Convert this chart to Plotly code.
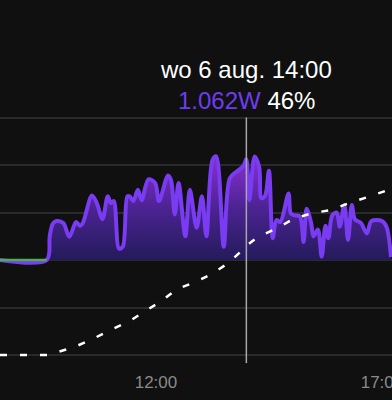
import plotly.graph_objects as go

DATE = "2025-08-06"

# Power (W) series
power_times = ["08:33", "09:35", "09:39", "09:43", "09:48", "09:57", "10:05", "10:14", "10:19", "10:23",
               "10:35", "10:41", "10:49", "10:56", "11:00", "11:04", "11:11", "11:16", "11:22", "11:25",
               "11:30", "11:36", "11:41", "11:50", "11:59", "12:04", "12:16", "12:20", "12:25", "12:30",
               "12:39", "12:45", "12:54", "13:01", "13:07", "13:15", "13:20", "13:30", "13:38", "13:47",
               "13:56", "14:00", "14:04", "14:11", "14:17", "14:20", "14:25", "14:30", "14:35", "14:40",
               "14:45", "14:56", "14:59", "15:04", "15:11", "15:16", "15:20", "15:26", "15:29", "15:35",
               "15:40", "15:45", "15:49", "15:54", "16:00", "16:04", "16:10", "16:15", "16:20", "16:24",
               "16:32", "16:40", "16:46", "17:00", "17:06", "17:12"]
power_values = [0, 0, 0.25, 0.38, 0.41, 0.39, 0.245, 0.40, 0.36, 0.39,
                0.68, 0.61, 0.43, 0.67, 0.60, 0.62, 0.12, 0.14, 0.67, 0.67,
                0.62, 0.74, 0.63, 0.85, 0.81, 0.62, 0.89, 0.84, 0.48, 0.81,
                0.25, 0.74, 0.34, 0.67, 0.25, 1.05, 1.09, 0.14, 0.86, 0.93,
                0.99, 1.062, 0.63, 1.09, 0.98, 0.65, 0.68, 0.94, 0.23, 0.42,
                0.40, 0.70, 0.49, 0.47, 0.46, 0.19, 0.54, 0.39, 0.25, 0.32,
                0.035, 0.36, 0.23, 0.47, 0.50, 0.35, 0.58, 0.21, 0.58, 0.43,
                0.39, 0.28, 0.41, 0.41, 0.35, 0.03]

# Green (idle) series
idle_times = ["08:33", "09:35"]
idle_values = [0, 0]

# Battery (%) series
battery_times = ["08:33", "09:37", "10:12", "10:36", "10:59", "11:23", "11:44", "12:07", "12:28",
                 "12:52", "13:14", "13:36", "13:55", "14:00", "14:15", "14:42", "15:02", "15:28",
                 "15:54", "16:16", "16:41", "17:07", "17:13"]
battery_values = [0, 0, 3.4, 6.7, 10.5, 13.9, 18.1, 22.7, 27.8,
                  30.7, 34.1, 38.7, 44.2, 46, 49.7, 53.5, 57.3, 59.8,
                  61.1, 64.0, 66.5, 69.1, 70]

tick_times = ["12:00", "17:00"]
tick_labels = ["12:00", "17:00"]
power_ticks = [-1.0, -0.5, 0, 0.5, 1.0, 1.5]

cursor_time = "14:00"
header_date = "wo 6 aug. 14:00"
header_power = "1.062W"
header_battery = "46%"

def ts(t):
    return f"{DATE} {t}"

BG = "#101010"
PURPLE = "#7a3cf3"
FONT = "Liberation Sans, Arial"

fig = go.Figure()

fig.add_trace(go.Scatter(
    x=[ts(t) for t in power_times], y=power_values,
    mode="lines", line=dict(color=PURPLE, width=4, shape="spline", smoothing=0.9),
    fill="tozeroy",
    fillgradient=dict(type="vertical", colorscale=[[0, "#221a58"], [0.5, "#4a2390"], [1, "#8a2ed2"]]),
    hoverinfo="skip", showlegend=False,
))

fig.add_trace(go.Scatter(
    x=[ts(t) for t in idle_times], y=idle_values,
    mode="lines", line=dict(color="#4caf50", width=2.5),
    hoverinfo="skip", showlegend=False,
))

fig.add_trace(go.Scatter(
    x=[ts(t) for t in battery_times], y=battery_values, yaxis="y2",
    mode="lines", line=dict(color="#ffffff", width=2.5, dash="7px,13px"),
    hoverinfo="skip", showlegend=False,
))

fig.add_shape(type="line", xref="x", yref="y",
              x0=ts(cursor_time), x1=ts(cursor_time),
              y0=power_ticks[0] - 0.085, y1=power_ticks[-1],
              line=dict(color="#a8a8a8", width=1.5), layer="above")

fig.add_annotation(x=ts(cursor_time), xref="x", y=1.157, yref="paper",
                   text=header_date, showarrow=False, yanchor="middle",
                   font=dict(color="#ffffff", size=24, family=FONT))
fig.add_annotation(x=ts(cursor_time), xref="x", y=1.039, yref="paper",
                   text=f"<span style='color:#6e3cf0'>{header_power}</span> {header_battery}",
                   showarrow=False, yanchor="middle",
                   font=dict(color="#ffffff", size=24, family=FONT))

fig.update_layout(
    width=392, height=400,
    margin=dict(l=0, r=0, t=110, b=35, autoexpand=False),
    paper_bgcolor=BG, plot_bgcolor=BG,
    xaxis=dict(
        type="date", automargin=False,
        range=[ts("08:33"), f"{DATE} 17:13:20"],
        tickvals=[ts(t) for t in tick_times], ticktext=tick_labels,
        showgrid=False, zeroline=False, showline=False, ticks="",
        ticklabeloverflow="allow", ticklabelstandoff=5,
        tickfont=dict(color="#8a8a8a", size=17, family=FONT),
    ),
    yaxis=dict(
        automargin=False,
        range=[-1.105, 1.579],
        tickvals=power_ticks, showticklabels=False,
        showgrid=True, gridcolor="#2a2a2a", gridwidth=2,
        zeroline=False, showline=False,
    ),
    yaxis2=dict(
        automargin=False,
        range=[-4.21, 103.16], overlaying="y", side="right",
        showgrid=False, showticklabels=False, zeroline=False, showline=False,
    ),
    showlegend=False,
)

fig.write_html(
    "out.html",
    config={"displayModeBar": False},
    post_script="document.body.style.margin='0';document.body.style.background='#101010';",
)
